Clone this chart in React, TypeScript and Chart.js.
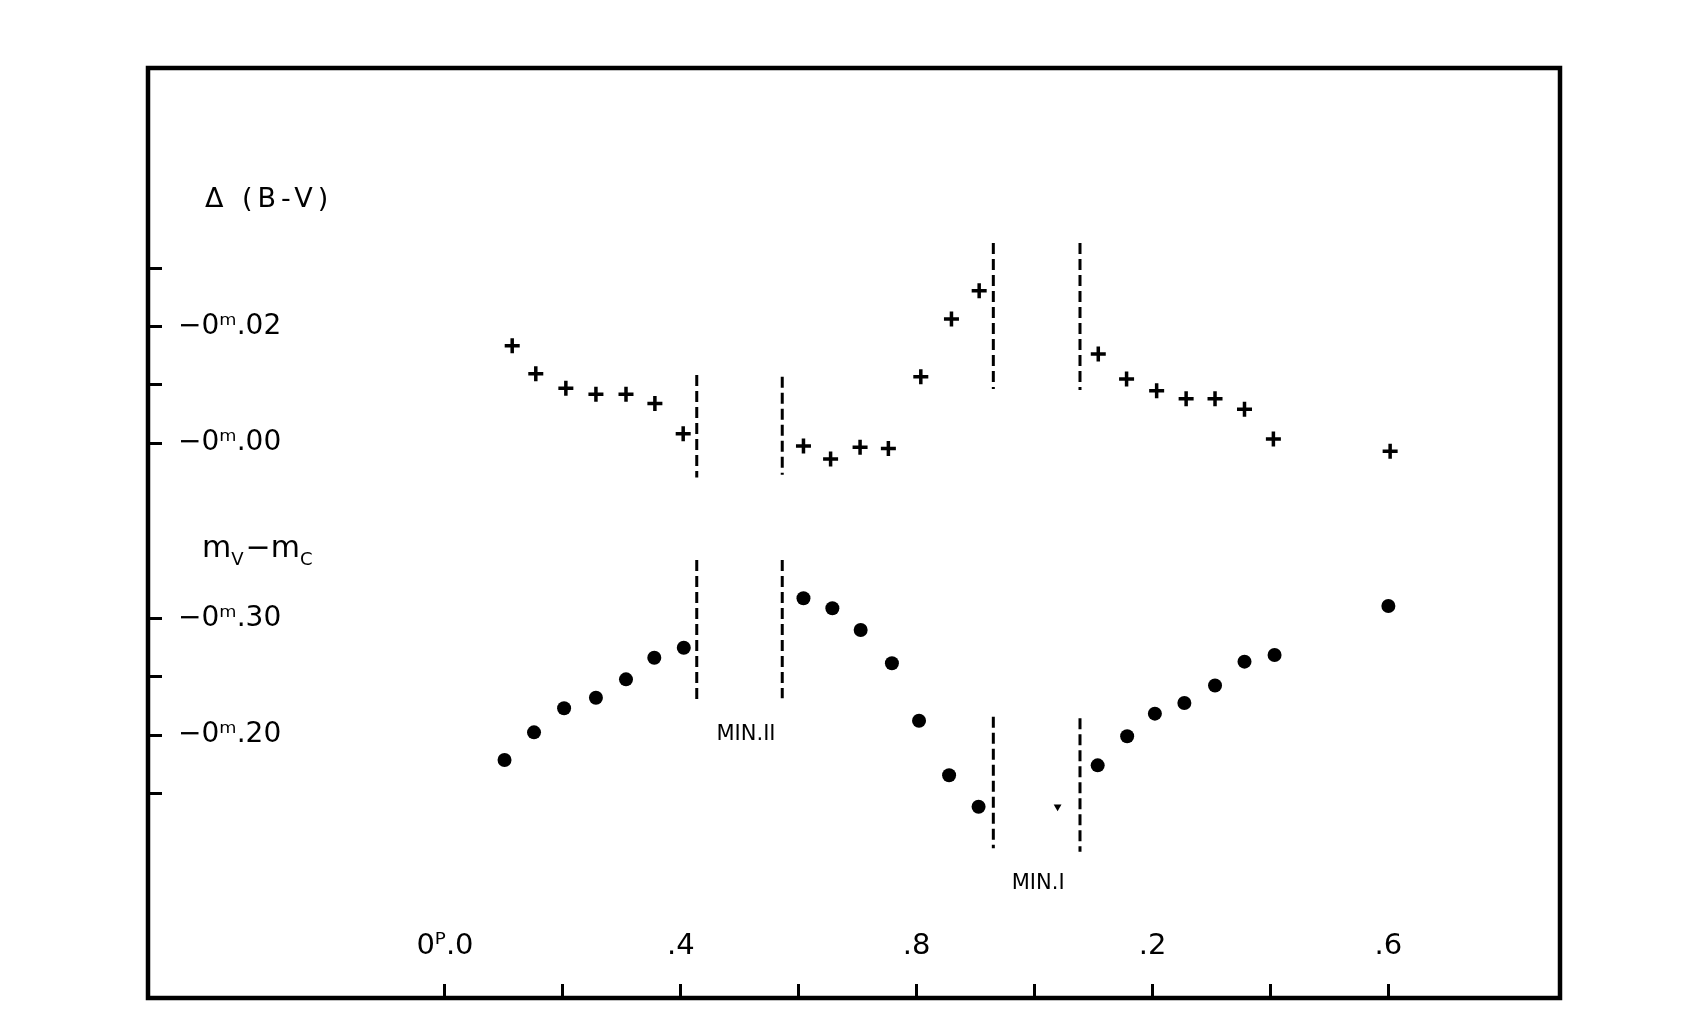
import React, { useEffect, useRef } from 'react';
import { Chart, registerables } from 'chart.js';

Chart.register(...registerables);

// ---- Data ----
// Δ(B−V) against phase (crosses, upper panel)
const PHASE_BV = [0.114, 0.154, 0.205, 0.256, 0.307, 0.356, 0.404, 0.608, 0.654, 0.704, 0.752, 0.807, 0.859, 0.906, 1.108, 1.156, 1.207, 1.257, 1.306, 1.356, 1.405, 1.603];
const DELTA_BV = [-0.0167, -0.0119, -0.0094, -0.0084, -0.0084, -0.0068, -0.0016, 0.0005, 0.0027, 0.0007, 0.0009, -0.0114, -0.0213, -0.0261, -0.0153, -0.0110, -0.0090, -0.0076, -0.0076, -0.0058, -0.0007, 0.0014];

// mV − mC against phase (dots, lower panel)
const PHASE_MAG = [0.101, 0.151, 0.202, 0.256, 0.307, 0.355, 0.405, 0.608, 0.657, 0.705, 0.758, 0.804, 0.855, 0.905, 1.107, 1.157, 1.204, 1.254, 1.306, 1.356, 1.407, 1.600];
const MAG_DIFF = [-0.1786, -0.2023, -0.2229, -0.2320, -0.2477, -0.2662, -0.2748, -0.3172, -0.3086, -0.2900, -0.2615, -0.2122, -0.1655, -0.1385, -0.1740, -0.1989, -0.2183, -0.2274, -0.2425, -0.2629, -0.2686, -0.3106];

// lone lower-limit point inside Min I
const PHASE_LIMIT = [1.039];
const MAG_LIMIT = [-0.1385];

// dashed minimum boundaries
const MIN_LINE_PHASE = [0.427, 0.572, 0.930, 1.077];
const BV_LINE_TOP = [-0.0117, -0.0114, -0.0343, -0.0343];
const BV_LINE_BOTTOM = [0.0059, 0.0054, -0.0093, -0.0091];
const MAG_LINE_TOP = [-0.350, -0.350, -0.2157, -0.2143];
const MAG_LINE_BOTTOM = [-0.230, -0.2315, -0.1029, -0.1000];

// ticks
const X_TICKS = [0, 0.2, 0.4, 0.6, 0.8, 1.0, 1.2, 1.4, 1.6];
const X_TICK_LABELS = ['0ᴾ.0', '', '.4', '', '.8', '', '.2', '', '.6'];
const BV_TICKS = [-0.03, -0.02, -0.01, 0.0];
const BV_TICK_LABELS = ['', '−0ᵐ.02', '', '−0ᵐ.00'];
const MAG_TICKS = [-0.30, -0.25, -0.20, -0.15];
const MAG_TICK_LABELS = ['−0ᵐ.30', '', '−0ᵐ.20', ''];

// text annotations (anchored in data units)
const BV_TITLE = { text: 'Δ (B-V)', x: -0.407, y: -0.0417 };
const MAG_TITLE = { parts: ['m', 'V', '−m', 'C'], x: -0.412, y: -0.3526 };
const MIN_LABELS = [
  { text: 'MIN.II', x: 0.5105, y: -0.200 },
  { text: 'MIN.I', x: 1.006, y: -0.0729 },
];

const FONT = "'DejaVu Sans', 'Liberation Sans', sans-serif";

const zip = (xs: number[], ys: number[]) => xs.map((x, i) => ({ x, y: ys[i] }));

const zeroFit = (scale: any) => {
  if (scale.isHorizontal()) scale.height = 0;
  else scale.width = 0;
  scale.paddingTop = 0;
  scale.paddingBottom = 0;
  scale.paddingLeft = 0;
  scale.paddingRight = 0;
};

const figurePlugin = {
  id: 'figureDecor',
  afterDraw(chart: any) {
    const { ctx, chartArea, scales } = chart;
    ctx.save();
    ctx.strokeStyle = '#000';
    ctx.lineWidth = 4.5;
    ctx.strokeRect(chartArea.left, chartArea.top, chartArea.right - chartArea.left, chartArea.bottom - chartArea.top);

    ctx.fillStyle = '#000';
    // Δ(B−V) title
    ctx.font = `27px ${FONT}`;
    ctx.textAlign = 'left';
    ctx.textBaseline = 'middle';
    if ('letterSpacing' in ctx) (ctx as any).letterSpacing = '5px';
    ctx.fillText(BV_TITLE.text, scales.x.getPixelForValue(BV_TITLE.x), scales.y1.getPixelForValue(BV_TITLE.y));
    if ('letterSpacing' in ctx) (ctx as any).letterSpacing = '0px';

    // mV − mC title with subscripts
    let px = scales.x.getPixelForValue(MAG_TITLE.x);
    const py = scales.y2.getPixelForValue(MAG_TITLE.y);
    ctx.textBaseline = 'alphabetic';
    MAG_TITLE.parts.forEach((t, i) => {
      const sub = i % 2 === 1;
      ctx.font = sub ? `18px ${FONT}` : `30px ${FONT}`;
      ctx.fillText(t, px, sub ? py + 8 : py);
      px += ctx.measureText(t).width + (sub ? 2 : 0);
    });

    // MIN labels
    ctx.font = `21px ${FONT}`;
    ctx.textAlign = 'center';
    ctx.textBaseline = 'middle';
    MIN_LABELS.forEach((l) => {
      ctx.fillText(l.text, scales.x.getPixelForValue(l.x), scales.y2.getPixelForValue(l.y));
    });
    ctx.restore();
  },
};

const gridOpts = {
  display: true,
  drawOnChartArea: false,
  drawTicks: true,
  tickLength: -14,
  color: '#000',
  tickColor: '#000',
  tickWidth: 3,
  lineWidth: 3,
};

export default function App() {
  const ref = useRef<HTMLCanvasElement | null>(null);

  useEffect(() => {
    if (!ref.current) return;

    const dashed = (yAxisID: string, tops: number[], bottoms: number[]) =>
      MIN_LINE_PHASE.map((x, i) => ({
        data: [{ x, y: tops[i] }, { x, y: bottoms[i] }],
        yAxisID,
        showLine: true,
        borderColor: '#000',
        borderWidth: 3,
        borderDash: [11, 5],
        pointRadius: 0,
        fill: false,
      }));

    const chart = new Chart(ref.current, {
      type: 'scatter',
      data: {
        datasets: [
          {
            data: zip(PHASE_BV, DELTA_BV),
            yAxisID: 'y1',
            pointStyle: 'cross',
            pointRadius: 7.5,
            pointBorderWidth: 3.5,
            borderColor: '#000',
            backgroundColor: '#000',
          },
          {
            data: zip(PHASE_MAG, MAG_DIFF),
            yAxisID: 'y2',
            pointStyle: 'circle',
            pointRadius: 7,
            borderWidth: 0,
            borderColor: '#000',
            backgroundColor: '#000',
          },
          {
            data: zip(PHASE_LIMIT, MAG_LIMIT),
            yAxisID: 'y2',
            pointStyle: 'triangle',
            pointRotation: 180,
            pointRadius: 4.5,
            borderWidth: 0,
            borderColor: '#000',
            backgroundColor: '#000',
          },
          ...dashed('y1', BV_LINE_TOP, BV_LINE_BOTTOM),
          ...dashed('y2', MAG_LINE_TOP, MAG_LINE_BOTTOM),
        ] as any,
      },
      options: {
        responsive: false,
        maintainAspectRatio: false,
        animation: false,
        devicePixelRatio: 1,
        layout: { padding: { left: 148, top: 68, right: 140, bottom: 25 } },
        plugins: { legend: { display: false }, tooltip: { enabled: false } },
        scales: {
          x: {
            type: 'linear',
            position: 'bottom',
            min: -0.5037,
            max: 1.8911,
            afterBuildTicks: (s: any) => { s.ticks = X_TICKS.map((v) => ({ value: v })); },
            afterFit: zeroFit,
            grid: gridOpts,
            border: { display: false },
            ticks: {
              mirror: true,
              padding: 34,
              autoSkip: false,
              maxRotation: 0,
              color: '#000',
              font: { family: FONT, size: 29 },
              callback: (_v: any, i: number) => X_TICK_LABELS[i],
            },
          },
          y1: {
            type: 'linear',
            position: 'left',
            reverse: true,
            min: -0.0643,
            max: 0.0951,
            afterBuildTicks: (s: any) => { s.ticks = BV_TICKS.map((v) => ({ value: v })); },
            afterFit: zeroFit,
            grid: gridOpts,
            border: { display: false },
            ticks: {
              mirror: true,
              padding: 30,
              autoSkip: false,
              color: '#000',
              font: { family: FONT, size: 28 },
              callback: (_v: any, i: number) => BV_TICK_LABELS[i],
            },
          },
          y2: {
            type: 'linear',
            position: 'left',
            reverse: true,
            min: -0.7717,
            max: 0.0254,
            afterBuildTicks: (s: any) => { s.ticks = MAG_TICKS.map((v) => ({ value: v })); },
            afterFit: zeroFit,
            grid: gridOpts,
            border: { display: false },
            ticks: {
              mirror: true,
              padding: 30,
              autoSkip: false,
              color: '#000',
              font: { family: FONT, size: 28 },
              callback: (_v: any, i: number) => MAG_TICK_LABELS[i],
            },
          },
        },
      } as any,
      plugins: [figurePlugin],
    });

    return () => chart.destroy();
  }, []);

  return (
    <div style={{ position: 'fixed', left: 0, top: 0, width: 1700, height: 1023, background: '#fff', overflow: 'hidden' }}>
      <canvas ref={ref} width={1700} height={1023} style={{ display: 'block', width: 1700, height: 1023 }} />
    </div>
  );
}
